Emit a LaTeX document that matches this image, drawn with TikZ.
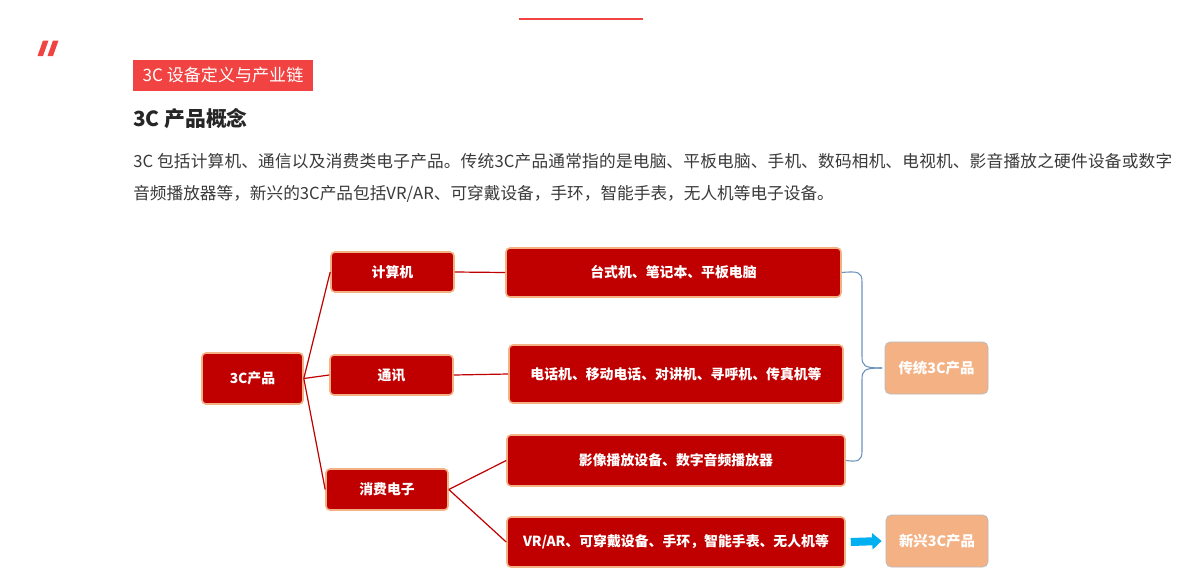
\documentclass[tikz,border=0pt]{standalone}
\usepackage{fontspec}
\setmainfont{Noto Sans CJK SC}
\usetikzlibrary{arrows.meta}
\definecolor{tagred}{HTML}{F24343}
\definecolor{boxred}{HTML}{C00000}
\definecolor{boxrim}{HTML}{F4B183}
\definecolor{peach}{HTML}{F4B183}
\definecolor{bracegray}{HTML}{6A92BE}
\definecolor{arrowblue}{HTML}{00B0F0}
\definecolor{bodygray}{HTML}{3A3A3A}
\XeTeXlinebreaklocale "zh"
\XeTeXlinebreakskip=0pt plus 2pt
\begin{document}
\begin{tikzpicture}[
    x=0.75pt, y=-0.75pt,
    catbox/.style={draw=boxrim, line width=1.2pt, fill=boxred, rounded corners=3pt, inner sep=0pt, align=center, text=white, font=\fontsize{10.4}{13}\selectfont\bfseries},
    sumbox/.style={draw=gray!55, line width=0.6pt, fill=peach, rounded corners=4pt, inner sep=0pt, align=center, text=white, font=\fontsize{10.8}{13}\selectfont\bfseries},
    link/.style={draw=boxred, line width=0.9pt},
    brace/.style={draw=bracegray, line width=0.8pt},
    blockarrow/.style={arrowblue, line width=6pt, -{Triangle[length=7pt,width=12pt]}}
]
    \useasboundingbox[fill=white] (0,0) rectangle (1199,575);

    % Kopfzeile
    \draw[tagred, line width=0.9pt] (519,19) -- (643,19);
    \fill[tagred] (37.5,56) -- (43,56) -- (48.5,40.5) -- (43,40.5) -- cycle;
    \fill[tagred] (47.5,56) -- (53,56) -- (58.5,40.5) -- (53,40.5) -- cycle;
    \node[fill=tagred, minimum width=135pt, minimum height=23.25pt, inner sep=0pt, text=white, font=\fontsize{12.8}{15}\selectfont] (tag) at (223,75.5) {3C 设备定义与产业链};
    \node[anchor=west, inner sep=0pt, text=black!85, font=\fontsize{15.6}{18}\selectfont\bfseries] (title) at (133,119) {3C 产品概念};
    \node[anchor=north west, inner sep=0pt, text width=779.25pt, align=justify, text=bodygray, font=\fontsize{12.5}{24}\selectfont] (intro) at (133,153) {3C 包括计算机、通信以及消费类电子产品。传统3C产品通常指的是电脑、平板电脑、手机、数码相机、电视机、影音播放之硬件设备或数字\linebreak 音频播放器等，新兴的3C产品包括VR/AR、可穿戴设备，手环，智能手表，无人机等电子设备。};

    % Baum
    \node[catbox, minimum width=75.75pt, minimum height=38.25pt] (root) at (252.5,378.5) {3C产品};
    \node[catbox, minimum width=92.25pt, minimum height=30pt] (comp) at (392.5,272) {计算机};
    \node[catbox, minimum width=92.25pt, minimum height=30pt] (comm) at (391.5,375) {通讯};
    \node[catbox, minimum width=91.5pt, minimum height=30.75pt] (cons) at (387,489.5) {消费电子};

    \node[catbox, minimum width=251.25pt, minimum height=36.75pt] (desk) at (673.5,272.5) {台式机、笔记本、平板电脑};
    \node[catbox, minimum width=250.5pt, minimum height=43.5pt] (phone) at (676,374) {电话机、移动电话、对讲机、寻呼机、传真机等};
    \node[catbox, minimum width=253.5pt, minimum height=38.25pt] (media) at (676,460.5) {影像播放设备、数字音频播放器};
    \node[catbox, minimum width=253.5pt, minimum height=37.5pt] (vr) at (676,542) {VR/AR、可穿戴设备、手环，智能手表、无人机等};

    \node[sumbox, minimum width=77.25pt, minimum height=39pt] (tradi) at (936.5,368) {传统3C产品};
    \node[sumbox, minimum width=76.5pt, minimum height=39pt] (emerg) at (937,541) {新兴3C产品};

    % Verbindungen
    \draw[link] (root.east) -- (comp.west);
    \draw[link] (root.east) -- (comm.west);
    \draw[link] (root.east) -- (cons.west);
    \draw[link] (comp.east) -- (desk.west);
    \draw[link] (comm.east) -- (phone.west);
    \draw[link] (cons.east) -- (media.west);
    \draw[link] (cons.east) -- (vr.west);

    % Klammer und Pfeil
    \coordinate (bracetip) at (882,368);
    \draw[brace] (desk.east) .. controls (858,271) and (862,272) .. (862,282) -- (862,356) .. controls (862,366) and (864,368) .. (bracetip);
    \draw[brace] (media.east) .. controls (858,462) and (862,461) .. (862,451) -- (862,380) .. controls (862,370) and (864,368) .. (bracetip);
    \draw[blockarrow] ([xshift=3.75pt]vr.east) -- ([xshift=-3pt]emerg.west);
\end{tikzpicture}
\end{document}
